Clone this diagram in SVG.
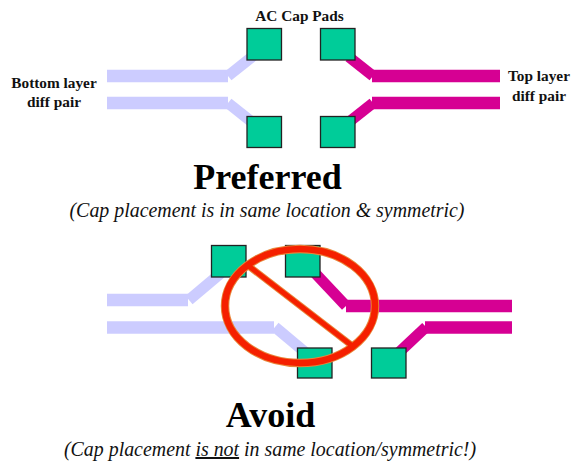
<svg xmlns="http://www.w3.org/2000/svg" width="571" height="461" viewBox="0 0 571 461">
<style>
.pad{fill:#00cc99;stroke:#222;stroke-width:1.3}
.bot{fill:none;stroke:#ccccff;stroke-width:12.5}
.top{fill:none;stroke:#d60093;stroke-width:12.5}
.d{stroke-width:11}
.lbl{font-family:"Liberation Serif",serif;font-weight:bold;font-size:15.3px;text-anchor:middle;fill:#111}
.h{font-family:"Liberation Serif",serif;font-weight:bold;font-size:36px;text-anchor:middle;fill:#000}
.s{font-family:"Liberation Serif",serif;font-style:italic;font-size:19.9px;text-anchor:middle;fill:#111}
</style>
<rect width="571" height="461" fill="#fff"/>
<g id="connectors">
<path class="bot" d="M107 76H228"/><path class="bot d" d="M228 76L253 56"/>
<path class="bot" d="M107 103H228"/><path class="bot d" d="M228 103L253 123"/>
<path class="top" d="M500 76H372"/><path class="top d" d="M373 76L349 57"/>
<path class="top" d="M500 103H372"/><path class="top d" d="M373 103L349 122"/>
<path class="bot" d="M107 300H188"/><path class="bot d" d="M189 300L221 273"/>
<path class="bot" d="M107 327.500H274"/><path class="bot d" d="M275 327L306 353"/>
<path class="top" d="M512 306H346"/><path class="top d" d="M346 306L314 272"/>
<path class="top" d="M512 327.500H425"/><path class="top d" d="M426 327L393 358"/>
</g>
<g id="pad-top-1"><rect class="pad" x="247" y="28.500" width="34.500" height="31.500"/></g>
<g id="pad-top-2"><rect class="pad" x="320.500" y="28.500" width="34.500" height="31.500"/></g>
<g id="pad-top-3"><rect class="pad" x="247" y="116.500" width="34.500" height="31"/></g>
<g id="pad-top-4"><rect class="pad" x="320.500" y="116.500" width="34.500" height="31"/></g>
<g id="pad-avoid-1"><rect class="pad" x="211.500" y="245.500" width="34.500" height="31.500"/></g>
<g id="pad-avoid-2"><rect class="pad" x="285.500" y="245.500" width="34.500" height="31.500"/></g>
<g id="pad-avoid-3"><rect class="pad" x="297.500" y="348" width="34.500" height="30"/></g>
<g id="pad-avoid-4"><rect class="pad" x="371.500" y="348" width="34.500" height="30"/></g>
<g id="no-sign" fill="none">
<ellipse cx="300" cy="306" rx="75" ry="57" stroke="#e8863a" stroke-width="8.500"/>
<path d="M246 264L355 348" stroke="#e8863a" stroke-width="7"/>
<ellipse cx="300" cy="306" rx="75" ry="57" stroke="#f52000" stroke-width="6.500"/>
<path d="M246 264L355 348" stroke="#f52000" stroke-width="5"/>
</g>
<g id="labels">
<text class="lbl" x="299.500" y="21">AC Cap Pads</text>
<text class="lbl" x="54" y="88">Bottom layer</text>
<text class="lbl" x="54" y="107">diff pair</text>
<text class="lbl" x="539" y="81">Top layer</text>
<text class="lbl" x="539" y="101">diff pair</text>
<text class="h" x="267.500" y="189">Preferred</text>
<text class="s" x="267" y="217">(Cap placement is in same location &amp; symmetric)</text>
<text class="h" x="270.500" y="427">Avoid</text>
<text class="s" x="270" y="456">(Cap placement <tspan text-decoration="underline">is not</tspan> in same location/symmetric!)</text>
</g>
</svg>
